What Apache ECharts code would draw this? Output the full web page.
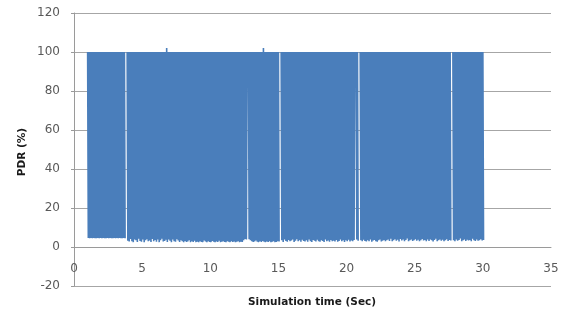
<!DOCTYPE html>
<html>
<head>
<meta charset="utf-8">
<script src="https://cdn.jsdelivr.net/npm/echarts@6/dist/echarts.min.js"></script>
<style>
html,body{margin:0;padding:0;background:#fff;}
#chart{width:561px;height:309px;}
</style>
</head>
<body>
<div id="chart"></div>
<script>
// Sampling of the simulation trace (seconds)
const startTime = 1.0;
const sampleStep = 0.1;

// Axis titles
const xTitle = 'Simulation time (Sec)';
const yTitle = 'PDR (%)';

// Peak PDR value of each sample (%), one row per second (row 1 = 1.0-1.9 s)
const highValues = [
  100,100,100,100,100,100,100,100,100,100,  // 1
  100,100,100,100,100,100,100,100,100,100,  // 2
  100,100,100,100,100,100,100,100,null,100, // 3
  100,100,100,100,100,100,100,100,100,100,  // 4
  100,100,100,100,100,100,100,100,100,100,  // 5
  100,100,100,100,100,100,100,100,102,100,  // 6
  100,100,100,100,100,100,100,100,100,100,  // 7
  100,100,100,100,100,100,100,100,100,100,  // 8
  100,100,100,100,100,100,100,100,100,100,  // 9
  100,100,100,100,100,100,100,100,100,100,  // 10
  100,100,100,100,100,100,100,100,100,100,  // 11
  100,100,100,100,100,100,100,100,100,100,  // 12
  100,100,100,100,100,100,100,100,100,102,  // 13
  100,100,100,100,100,100,100,100,100,100,  // 14
  100,null,100,100,100,100,100,100,100,100, // 15
  100,100,100,100,100,100,100,100,100,100,  // 16
  100,100,100,100,100,100,100,100,100,100,  // 17
  100,100,100,100,100,100,100,100,100,100,  // 18
  100,100,100,100,100,100,100,100,100,100,  // 19
  100,100,100,100,100,100,100,100,100,null, // 20
  100,100,100,100,100,100,100,100,100,100,  // 21
  100,100,100,100,100,100,100,100,100,100,  // 22
  100,100,100,100,100,100,100,100,100,100,  // 23
  100,100,100,100,100,100,100,100,100,100,  // 24
  100,100,100,100,100,100,100,100,100,100,  // 25
  100,100,100,100,100,100,100,100,100,100,  // 26
  100,100,100,100,100,100,100,null,100,100, // 27
  100,100,100,100,100,100,100,100,100,100,  // 28
  100,100,100,100,100,100,100,100,100,100,  // 29
  100                                       // 30
];

// Trough PDR value of each sample (%), one row per second
const lowValues = [
  4.6,4.5,4.6,4.5,4.6,4.5,4.5,4.6,4.5,4.6,  // 1
  4.5,4.6,4.5,4.5,4.6,4.5,4.6,4.5,4.5,4.6,  // 2
  4.5,4.6,4.5,4.6,4.5,4.5,4.6,4.5,null,3.2, // 3
  2.8,4.1,3.0,2.5,3.9,3.4,2.6,4.2,3.1,2.7,  // 4
  3.8,2.4,3.5,4.0,2.9,3.3,2.6,4.1,3.0,3.6,  // 5
  2.7,3.9,2.5,3.4,4.2,2.8,3.1,3.7,2.6,3.9,  // 6
  3.2,2.5,3.8,3.0,2.7,4.0,3.3,2.6,3.5,2.9,  // 7
  2.4,3.1,2.6,2.8,3.4,2.5,2.9,2.6,3.2,2.5,  // 8
  2.7,2.4,3.0,2.6,2.5,3.3,2.8,2.4,2.9,2.6,  // 9
  2.5,3.1,2.7,2.4,2.8,2.6,3.2,2.5,2.7,2.9,  // 10
  2.6,2.4,2.9,2.7,2.5,3.0,2.6,2.8,2.4,2.7,  // 11
  2.9,2.5,2.7,2.6,3.4,4.1,3.8,null,4.0,3.5, // 12
  3.0,2.6,2.8,3.3,2.7,2.5,2.9,2.6,3.1,2.7,  // 13
  2.5,2.8,2.6,3.0,2.4,2.7,2.9,2.5,2.6,3.0,  // 14
  2.8,null,3.4,2.6,3.9,3.1,2.7,3.6,2.9,3.3, // 15
  3.8,2.6,3.2,4.0,2.9,3.5,2.7,3.7,3.1,2.8,  // 16
  3.4,2.7,3.9,3.0,2.6,3.6,3.2,2.8,3.7,3.0,  // 17
  2.7,3.5,3.1,2.6,3.8,2.9,3.3,2.7,3.6,3.0,  // 18
  3.2,2.8,3.6,2.7,3.1,3.9,2.9,3.4,2.6,3.5,  // 19
  3.0,3.7,2.8,3.3,2.9,3.6,null,3.8,3.2,null,// 20
  3.4,2.9,3.7,3.1,2.8,3.5,3.0,3.8,2.7,3.3,  // 21
  3.6,3.0,2.7,3.4,3.9,2.8,3.2,3.6,2.9,3.4,  // 22
  3.8,3.1,4.2,2.9,3.5,4.0,3.2,3.7,2.8,4.1,  // 23
  3.3,3.9,2.9,3.6,4.3,3.0,3.4,3.8,3.1,3.5,  // 24
  4.0,3.2,3.7,2.9,3.4,4.1,3.3,3.6,3.0,3.8,  // 25
  3.1,3.9,3.4,2.8,3.6,4.2,3.0,3.5,3.9,3.2,  // 26
  3.7,3.0,3.4,4.0,3.1,3.6,3.3,null,3.5,3.0, // 27
  3.8,3.2,3.6,4.4,3.0,3.4,3.9,3.1,3.7,3.3,  // 28
  3.6,3.0,4.2,3.4,3.1,3.8,3.2,3.5,4.0,3.3,  // 29
  3.6                                       // 30
];

const xTicks = { min: 0, max: 35, interval: 5 };
const yTicks = { min: -20, max: 120, interval: 20 };

// build the trace: peak then trough for every sample
const trace = [];
for (let i = 0; i < lowValues.length; i++) {
  const t = +(startTime + i * sampleStep).toFixed(3);
  trace.push([t, highValues[i]]);
  trace.push([+(t + sampleStep / 2).toFixed(3), lowValues[i]]);
}

const titleFont = { fontFamily: 'DejaVu Sans', fontWeight: 'bold', fontSize: 10.5, fill: '#1a1a1a' };

const chart = echarts.init(document.getElementById('chart'), null, { renderer: 'canvas' });
chart.setOption({
  animation: false,
  backgroundColor: '#ffffff',
  grid: { left: 74, right: 10, top: 13, bottom: 23, containLabel: false, outerBoundsMode: 'none' },
  xAxis: {
    type: 'value',
    min: xTicks.min, max: xTicks.max, interval: xTicks.interval,
    offset: -39,
    axisLine: { onZero: false, lineStyle: { color: '#9a9a9a', width: 1 } },
    axisTick: { show: false },
    axisLabel: { margin: 16, fontFamily: 'DejaVu Sans', fontSize: 12, color: '#595959' },
    splitLine: { show: false }
  },
  yAxis: {
    type: 'value',
    min: yTicks.min, max: yTicks.max, interval: yTicks.interval,
    axisLine: { show: true, lineStyle: { color: '#9a9a9a', width: 1 } },
    axisTick: { show: true, length: 3, lineStyle: { color: '#9a9a9a' } },
    axisLabel: { margin: 14, fontFamily: 'DejaVu Sans', fontSize: 12, color: '#595959' },
    splitLine: { show: true, lineStyle: { color: '#a6a6a6', width: 1 } }
  },
  graphic: [
    {
      type: 'text', x: 312, y: 302,
      style: Object.assign({ text: xTitle, align: 'center', verticalAlign: 'middle' }, titleFont)
    },
    {
      type: 'text', x: 22, y: 152, rotation: Math.PI / 2,
      style: Object.assign({ text: yTitle, align: 'center', verticalAlign: 'middle' }, titleFont)
    }
  ],
  series: [{
    name: 'PDR',
    type: 'line',
    data: trace,
    symbol: 'none',
    connectNulls: false,
    lineStyle: { color: '#4A7EBB', width: 1.6, join: 'bevel' },
    itemStyle: { color: '#4A7EBB' },
    z: 3
  }]
});
</script>
</body>
</html>
